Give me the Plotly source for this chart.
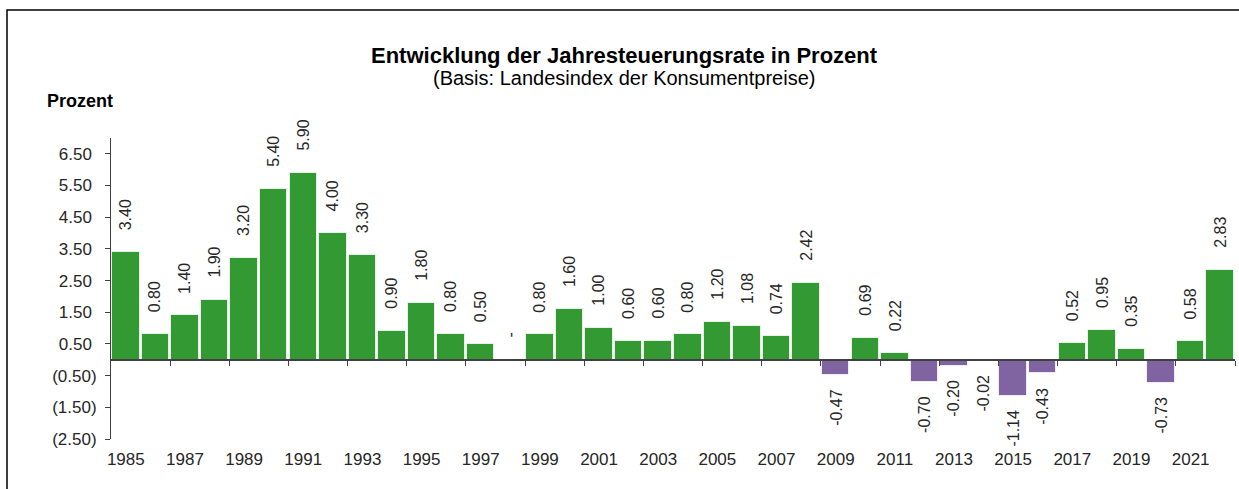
import plotly.graph_objects as go

years = list(range(1985, 2023))
values = [3.40, 0.80, 1.40, 1.90, 3.20, 5.40, 5.90, 4.00, 3.30, 0.90, 1.80, 0.80, 0.50, None,
          0.80, 1.60, 1.00, 0.60, 0.60, 0.80, 1.20, 1.08, 0.74, 2.42, -0.47, 0.69, 0.22,
          -0.70, -0.20, -0.02, -1.14, -0.43, 0.52, 0.95, 0.35, -0.73, 0.58, 2.83]
y_tickvals = [6.5, 5.5, 4.5, 3.5, 2.5, 1.5, 0.5, -0.5, -1.5, -2.5]
y_ticktext = ["6.50\u00a0", "5.50\u00a0", "4.50\u00a0", "3.50\u00a0", "2.50\u00a0", "1.50\u00a0",
              "0.50\u00a0", "(0.50)", "(1.50)", "(2.50)"]
x_label_years = list(range(1985, 2023, 2))

GREEN = "#339933"
PURPLE = "#8064A2"
FONT = "Liberation Sans, Arial, sans-serif"

bar_y = [v if v is not None else 0 for v in values]
colors = [PURPLE if (v is not None and v < 0) else GREEN for v in values]

fig = go.Figure()
fig.add_trace(go.Bar(
    x=years, y=bar_y, marker=dict(color=colors, line=dict(color="rgba(255,255,255,0.75)", width=1)),
    width=0.93, hoverinfo="skip", showlegend=False))
# invisible trace to carry the zero-line axis with its boundary ticks
fig.add_trace(go.Scatter(x=[years[0]], y=[0], xaxis="x2", mode="markers",
                         marker=dict(opacity=0), hoverinfo="skip", showlegend=False))

annotations = []
for yr, v in zip(years, values):
    if v is None:
        txt, yv, anchor, shift = "-", 0, "bottom", 20
    elif v >= 0:
        txt, yv, anchor, shift = f"{v:.2f}", v, "bottom", 20
    else:
        txt, yv, anchor, shift = f"{v:.2f}", v, "top", -12
    annotations.append(dict(x=yr, y=yv, xref="x", yref="y", text=txt, showarrow=False,
                            textangle=-90, yanchor=anchor, xanchor="center", yshift=shift,
                            font=dict(family=FONT, size=16, color="#262626")))

annotations += [
    dict(x=624, y=55, xref="paper", yref="paper", text="<b>Entwicklung der Jahresteuerungsrate in Prozent</b>",
         showarrow=False, yanchor="middle", font=dict(family=FONT, size=22, color="#000000")),
    dict(x=624, y=78, xref="paper", yref="paper", text="(Basis: Landesindex der Konsumentpreise)",
         showarrow=False, yanchor="middle", font=dict(family=FONT, size=20, color="#000000")),
    dict(x=45, y=101, xref="paper", yref="paper", text="<b>Prozent</b>", xanchor="left",
         showarrow=False, yanchor="middle", font=dict(family=FONT, size=18, color="#000000")),
]

# convert pixel positions of the header texts to paper coords
L, R, T, B = 111, 4, 138, 50
W, H = 1239, 489
pw, ph = W - L - R, H - T - B
for a in annotations[-3:]:
    a["x"] = (a["x"] - L) / pw
    a["y"] = (H - B - a["y"]) / ph

fig.update_layout(
    width=W, height=H,
    margin=dict(l=L, r=R, t=T, b=B),
    paper_bgcolor="white", plot_bgcolor="white",
    bargap=0,
    xaxis=dict(range=[1984.5, 2022.5], tickvals=x_label_years, ticktext=[str(y) for y in x_label_years],
               ticks="", showline=False, showgrid=False, zeroline=False,
               tickfont=dict(family=FONT, size=17, color="#262626"), ticklabelstandoff=8),
    xaxis2=dict(range=[1984.5, 2022.5], overlaying="x", anchor="free", position=2.5 / 9.5,
                tickvals=[y + 0.5 for y in range(1986, 2023, 2)], ticks="outside", ticklen=5,
                tickcolor="#404040", tickwidth=1, showticklabels=False, showline=True,
                linecolor="#404040", linewidth=1.5, showgrid=False, zeroline=False),
    yaxis=dict(range=[-2.5, 7.0], tickvals=y_tickvals, ticktext=y_ticktext, ticks="outside",
               ticklen=5, tickcolor="#404040", showline=True, linecolor="#404040", linewidth=1,
               showgrid=False, zeroline=False, ticklabelstandoff=5,
               tickfont=dict(family=FONT, size=17, color="#262626")),
    annotations=annotations,
    shapes=[dict(type="rect", xref="paper", yref="paper",
                 x0=(7 - L) / pw, x1=(1260 - L) / pw,
                 y0=(H - B - 520) / ph, y1=(H - B - 10) / ph,
                 line=dict(color="black", width=1.5), fillcolor="rgba(0,0,0,0)", layer="below")],
)

fig.write_html("out.html", config={"displayModeBar": False},
               post_script="document.body.style.margin='0';document.body.style.overflow='hidden';")
